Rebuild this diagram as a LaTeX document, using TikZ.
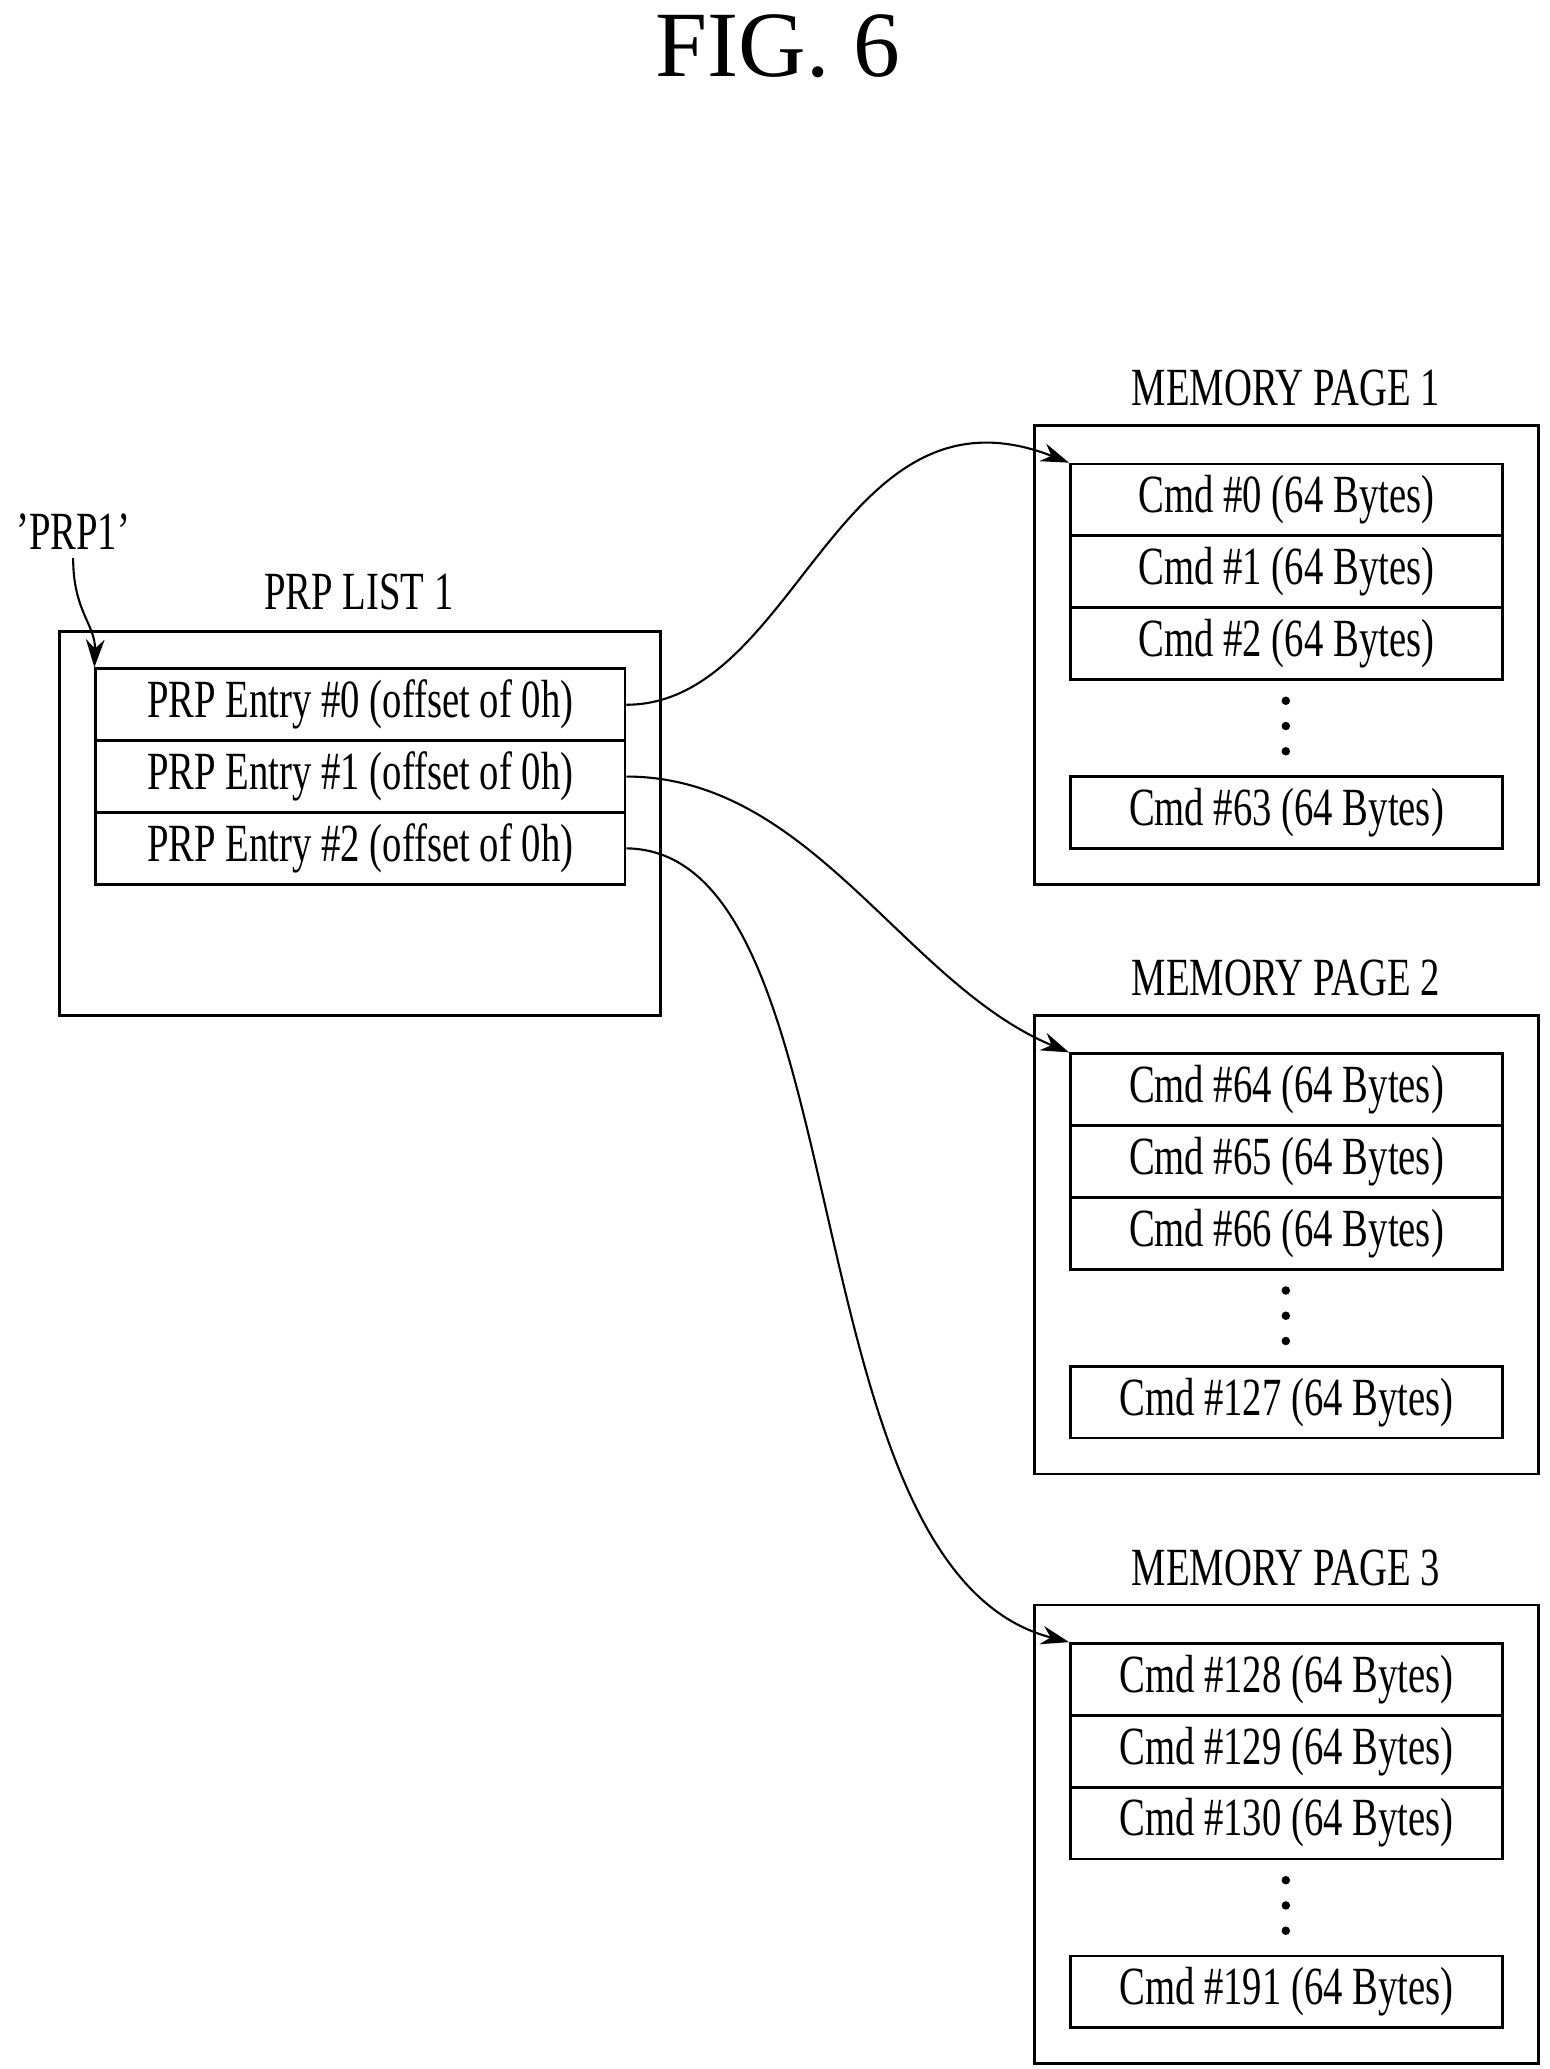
\documentclass[tikz,border=0pt]{standalone}
\usepackage{fontspec}
\setmainfont{Liberation Serif}[FakeStretch=0.72]
\newfontfamily\titlefont{Liberation Serif}
\usetikzlibrary{arrows.meta}
\tikzset{
  box/.style={draw,line width=1.2pt,inner sep=0pt},
  cell/.style={box,minimum width=6.5cm,minimum height=1.08cm,font=\fontsize{23}{23}\selectfont},
  entry/.style={box,minimum width=7.96cm,minimum height=1.08cm,font=\fontsize{23}{23}\selectfont},
  title/.style={font=\fontsize{23}{23}\selectfont},
  link/.style={line width=0.9pt,-{Stealth[length=12pt,width=8pt]}}
}
\begin{document}
\begin{tikzpicture}[x=0.02cm,y=-0.02cm]
  \useasboundingbox (0,0) rectangle (1165,1556);
  \node (fig) at (585,35) {\titlefont\fontsize{40}{40}\selectfont FIG. 6};

  % PRP list
  \node[title] (prp1) at (55,400) {'PRP1'};
  \node[title] (listname) at (270,445) {PRP LIST 1};
  \node[box,minimum width=9.04cm,minimum height=5.78cm] (list) at (271,619.5) {};
  \node[entry] (e0) at (271,530) {PRP Entry \#0 (offset of 0h)};
  \node[entry] (e1) at (271,584) {PRP Entry \#1 (offset of 0h)};
  \node[entry] (e2) at (271,638) {PRP Entry \#2 (offset of 0h)};

  % memory pages
  \foreach \p/\a/\b/\c/\d in {1/0/1/2/63,2/64/65/66/127,3/128/129/130/191}{
    \pgfmathsetmacro{\dy}{(\p-1)*443.5}
    \node[title] (name\p) at (967,292+\dy) {MEMORY PAGE \p};
    \node[box,minimum width=7.58cm,minimum height=6.9cm] (page\p) at (967.5,492.5+\dy) {};
    \node[cell] (c\p0) at (967.5,376+\dy) {Cmd \#\a\ (64 Bytes)};
    \node[cell] (c\p1) at (967.5,430+\dy) {Cmd \#\b\ (64 Bytes)};
    \node[cell] (c\p2) at (967.5,484+\dy) {Cmd \#\c\ (64 Bytes)};
    \node[cell] (c\p3) at (967.5,611+\dy) {Cmd \#\d\ (64 Bytes)};
    \foreach \k in {0,1,2}
      \fill (967,{527+\k*19+\dy}) circle (3.2);
  }

  \draw[link] (prp1.south) .. controls (55,460) and (72,470) .. (e0.north west);
  \draw[link] (e0.east) .. controls (600,530) and (630,280) .. (c10.north west);
  \draw[link] (e1.east) .. controls (610,584) and (680,740) .. (c20.north west);
  \draw[link] (e2.east) .. controls (650,640) and (590,1180) .. (c30.north west);
\end{tikzpicture}
\end{document}
